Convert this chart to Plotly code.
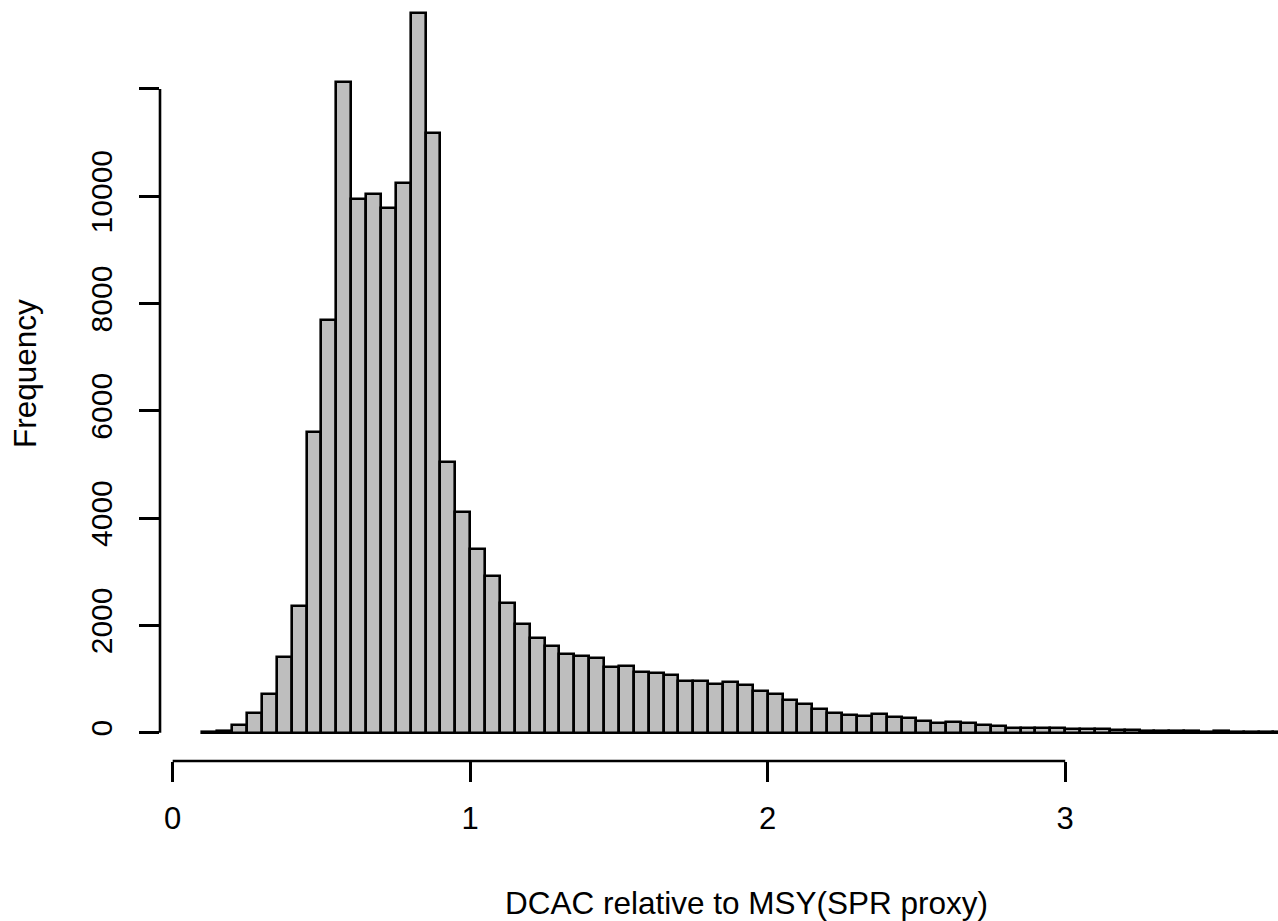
import numpy as np
import plotly.graph_objects as go

# Histogram of DCAC relative to MSY (SPR proxy); bins of width 0.05 starting at 0.10
bin_start = 0.10
bin_width = 0.05
counts = [
    15, 40, 140, 360, 716, 1417, 2362, 5611, 7692, 12123,
    9942, 10041, 9786, 10252, 13420, 11172, 5051, 4108, 3427, 2927,
    2412, 2020, 1771, 1622, 1467, 1435, 1386, 1219, 1249, 1137,
    1107, 1075, 964, 964, 913, 939, 883, 783, 721, 603,
    528, 441, 361, 336, 317, 342, 292, 274, 224, 187,
    199, 174, 149, 118, 93, 87, 93, 80, 75, 70,
    60, 55, 45, 25, 40, 30, 28, 12, 40, 8,
    6, 5, 4, 3, 2,
]
x_ticks = [0, 1, 2, 3]
y_ticks = [0, 2000, 4000, 6000, 8000, 10000, 12000]
y_ticktext = ["0", "2000", "4000", "6000", "8000", "10000", ""]
x_title = "DCAC relative to MSY(SPR proxy)"
y_title = "Frequency"

centers = [round(bin_start + bin_width * (i + 0.5), 4) for i in range(len(counts))]

FONT = "Liberation Sans, Arial, Helvetica, sans-serif"
LW = 2.6

fig = go.Figure()
fig.add_trace(go.Bar(
    x=centers, y=counts, width=bin_width,
    marker=dict(color="#BEBEBE", line=dict(color="black", width=LW)),
    hoverinfo="x+y",
))

W, H = 1278, 921
ml, mr, mt, mb = 160, 0, 0, 160
px_per_x = 297.5
x0_px = 172.7
x_lo = (ml - x0_px) / px_per_x
x_hi = (W - mr - x0_px) / px_per_x
plot_h = H - mt - mb
zero_px = 732.7
px_per_y = 53.65 / 1000
y_lo = -(mt + plot_h - zero_px) / px_per_y
y_hi = (zero_px - mt) / px_per_y

fig.update_layout(
    width=W, height=H,
    margin=dict(l=ml, r=mr, t=mt, b=mb, pad=0),
    paper_bgcolor="white", plot_bgcolor="white",
    bargap=0, showlegend=False,
    font=dict(family=FONT, color="black"),
    xaxis=dict(
        range=[x_lo, x_hi], tickvals=x_ticks, ticks="outside", ticklen=20,
        tickwidth=LW, tickcolor="black", showgrid=False, zeroline=False,
        showline=False, tickfont=dict(size=31, family=FONT),
        ticklabelstandoff=10,
    ),
    yaxis=dict(
        range=[y_lo, y_hi], tickvals=y_ticks, ticktext=y_ticktext,
        ticks="outside", ticklen=20, tickwidth=LW, tickcolor="black",
        showgrid=False, zeroline=False, showline=False, tickangle=-90,
        tickfont=dict(size=30, family=FONT), ticklabelstandoff=15,
    ),
    shapes=[
        dict(type="line", xref="x", yref="paper", x0=x_ticks[0], x1=x_ticks[-1],
             y0=0, y1=0, line=dict(color="black", width=LW)),
        dict(type="line", xref="paper", yref="y", x0=0, x1=0,
             y0=y_ticks[0], y1=y_ticks[-1], line=dict(color="black", width=LW)),
    ],
    annotations=[
        dict(text=x_title, xref="paper", yref="paper",
             x=(746.5 - ml) / (W - ml - mr), y=(plot_h - (903 - mt)) / plot_h,
             xanchor="center", yanchor="middle", showarrow=False,
             font=dict(size=31.5, family=FONT)),
        dict(text=y_title, xref="paper", yref="paper",
             x=(25 - ml) / (W - ml - mr), y=(plot_h - (374 - mt)) / plot_h,
             xanchor="center", yanchor="middle", showarrow=False, textangle=-90,
             font=dict(size=31.5, family=FONT)),
    ],
)

fig.write_html(
    "out.html",
    config={"displayModeBar": False},
    post_script="document.body.style.margin='0';document.body.style.overflow='hidden';",
)
